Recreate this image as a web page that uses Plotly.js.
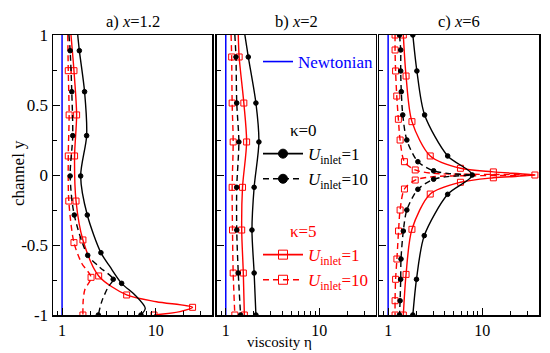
<!DOCTYPE html>
<html>
<head>
<meta charset="utf-8">
<script src="https://cdn.plot.ly/plotly-3.0.1.min.js"></script>
<style>html,body{margin:0;padding:0;background:#fff}#chart{width:550px;height:353px}</style>
</head>
<body>
<div id="chart"></div>
<script>
// ---------- data (viscosity eta vs channel y) ----------
const panelTitles = ['a) <i>x</i>=1.2', 'b) <i>x</i>=2', 'c) <i>x</i>=6'];
const xTickVals = [1, 10];
const xTickText = ['1', '10'];
const xMinorVals = [0.9, 2, 3, 4, 5, 6, 7, 8, 9, 20, 30];
const yTickVals = [-1, -0.5, 0, 0.5, 1];
const yTickText = ['-1', '-0.5', '0', '0.5', '1'];
const newtonX = [1, 1];
const newtonY = [-1, 1];

// panel a) x=1.2
const a_k0u1_y = [1, 0.888, 0.595, 0.281, -0.007, -0.286, -0.555, -0.655, -0.774, -0.857, -0.952, -1];
const a_k0u1_x = [1.47, 1.53, 1.74, 1.83, 1.58, 1.86, 2.6, 3.25, 4.33, 6.0, 7.74, 6.97];
const a_k0u1_m = [1, 2, 3, 4, 5, 6, 8, 11];
const a_k0u10_y = [1, 0.888, 0.595, 0.281, -0.007, -0.286, -0.574, -0.66, -0.745, -0.798, -0.905, -1];
const a_k0u10_x = [1.185, 1.22, 1.27, 1.30, 1.22, 1.35, 1.88, 2.54, 3.52, 3.12, 2.65, 2.44];
const a_k0u10_m = [1, 2, 3, 4, 5, 6, 8, 11];
const a_k5u1_y = [1, 0.745, 0.429, 0.136, -0.186, -0.464, -0.721, -0.857, -0.905, -0.945, -0.976, -1];
const a_k5u1_x = [1.245, 1.34, 1.43, 1.36, 1.41, 1.67, 2.46, 4.9, 10.2, 24.8, 18.2, 9.6];
const a_k5u1_m = [1, 2, 3, 4, 5, 6, 7, 9, 11];
const a_k5u10_y = [1, 0.745, 0.429, 0.136, -0.186, -0.483, -0.63, -0.731, -0.82, -0.9, -1];
const a_k5u10_x = [1.15, 1.165, 1.19, 1.165, 1.18, 1.34, 1.62, 2.04, 1.75, 1.68, 1.67];
const a_k5u10_m = [1, 2, 3, 4, 5, 7, 10];

// panel b) x=2
const b_y = [1, 0.843, 0.514, 0.236, -0.088, -0.393, -0.70, -1];
const b_k0u1_x = [1.60, 1.74, 2.10, 2.26, 2.01, 1.905, 2.01, 2.1];
const b_k0u10_x = [1.25, 1.285, 1.31, 1.38, 1.31, 1.31, 1.36, 1.44];
const b_k5u1_x = [1.36, 1.39, 1.56, 1.67, 1.51, 1.48, 1.54, 1.58];
const b_k5u10_x = [1.14, 1.156, 1.17, 1.2, 1.17, 1.18, 1.2, 1.25];
const b_m = [1, 2, 3, 4, 5, 6, 7];

// panel c) x=6
const c_k0u1_y = [1, 0.743, 0.429, 0.136, 0, -0.138, -0.433, -0.745, -1];
const c_k0u1_x = [1.83, 2.02, 2.44, 4.29, 7.82, 4.29, 2.42, 2.0, 1.83];
const c_k0u1_m = [0, 1, 2, 3, 4, 5, 6, 7, 8];
const c_k0u10_y = [1, 0.893, 0.743, 0.595, 0.429, 0.25, 0.095, 0.03, 0.01, 0, -0.01, -0.03, -0.102, -0.25, -0.4, -0.6, -0.745, -0.898, -1];
const c_k0u10_x = [1.32, 1.36, 1.36, 1.38, 1.43, 1.58, 2.07, 3.04, 4.5, 7.82, 4.5, 3.04, 2.07, 1.58, 1.45, 1.37, 1.36, 1.34, 1.32];
const c_k0u10_m = [0, 1, 2, 3, 4, 5, 6, 7, 11, 12, 13, 14, 15, 16, 17, 18];
const c_k5u1_y = [1, 0.707, 0.381, 0.136, 0.048, 0.022, 0, -0.02, -0.052, -0.136, -0.388, -0.71, -1];
const c_k5u1_x = [1.45, 1.55, 1.79, 2.8, 5.86, 13.1, 36.2, 13.1, 5.86, 2.8, 1.79, 1.55, 1.45];
const c_k5u1_m = [0, 1, 2, 3, 4, 5, 6, 7, 8, 9, 10, 11, 12];
const c_k5u10_y = [1, 0.893, 0.743, 0.564, 0.398, 0.25, 0.095, 0.036, 0.012, 0.004, 0, -0.004, -0.012, -0.036, -0.1, -0.25, -0.4, -0.6, -0.745, -0.898, -1];
const c_k5u10_x = [1.185, 1.185, 1.2, 1.235, 1.285, 1.34, 1.49, 1.94, 3.0, 13.1, 36.2, 13.1, 3.0, 1.94, 1.49, 1.34, 1.29, 1.24, 1.2, 1.185, 1.185];
const c_k5u10_m = [0, 1, 2, 3, 4, 5, 6, 7, 13, 14, 15, 16, 17, 18, 19, 20];

// ---------- styling ----------
const FONT = 'Liberation Serif, Times New Roman, Times, DejaVu Serif, serif';
const BLACK = '#000000', RED = '#ff0000', BLUE = '#0000ff';
const W = 550, H = 353;
const px = v => v / W, py = v => 1 - v / H;
const xDomains = [[px(53), px(212)], [px(216.7), px(375.7)], [px(379), px(539)]];
const yDomain = [py(315), py(35)];
const PAD = '\u00a0\u00a0\u00a0\u00a0\u00a0\u00a0';

const styles = {
  k0u1: {color: BLACK, dash: 'solid', symbol: 'circle', size: 4.6},
  k0u10: {color: BLACK, dash: '6px,4px', symbol: 'circle', size: 4.6},
  k5u1: {color: RED, dash: 'solid', symbol: 'square-open', size: 6},
  k5u10: {color: RED, dash: '6px,4px', symbol: 'square-open', size: 6}
};

const traces = [];
function addSeries(xs, ys, mk, st, ax) {
  const xa = 'x' + (ax === 1 ? '' : ax), ya = 'y' + (ax === 1 ? '' : ax);
  traces.push({x: xs, y: ys, xaxis: xa, yaxis: ya, mode: 'lines', showlegend: false, hoverinfo: 'skip',
    line: {color: st.color, width: 1.4, dash: st.dash, shape: 'spline', smoothing: 0.8}});
  traces.push({x: mk.map(i => xs[i]), y: mk.map(i => ys[i]), xaxis: xa, yaxis: ya, mode: 'markers', showlegend: false, hoverinfo: 'skip',
    marker: {color: st.color, symbol: st.symbol, size: st.size, line: {color: st.color, width: 1}}});
}
for (let p = 1; p <= 3; p++) {
  traces.push({x: newtonX, y: newtonY, xaxis: 'x' + (p === 1 ? '' : p), yaxis: 'y' + (p === 1 ? '' : p), mode: 'lines',
    showlegend: false, hoverinfo: 'skip', line: {color: BLUE, width: 1.5}});
}
addSeries(a_k5u10_x, a_k5u10_y, a_k5u10_m, styles.k5u10, 1);
addSeries(a_k5u1_x, a_k5u1_y, a_k5u1_m, styles.k5u1, 1);
addSeries(a_k0u10_x, a_k0u10_y, a_k0u10_m, styles.k0u10, 1);
addSeries(a_k0u1_x, a_k0u1_y, a_k0u1_m, styles.k0u1, 1);
addSeries(b_k5u10_x, b_y, b_m, styles.k5u10, 2);
addSeries(b_k5u1_x, b_y, b_m, styles.k5u1, 2);
addSeries(b_k0u10_x, b_y, b_m, styles.k0u10, 2);
addSeries(b_k0u1_x, b_y, b_m, styles.k0u1, 2);
addSeries(c_k5u10_x, c_k5u10_y, c_k5u10_m, styles.k5u10, 3);
addSeries(c_k5u1_x, c_k5u1_y, c_k5u1_m, styles.k5u1, 3);
addSeries(c_k0u10_x, c_k0u10_y, c_k0u10_m, styles.k0u10, 3);
addSeries(c_k0u1_x, c_k0u1_y, c_k0u1_m, styles.k0u1, 3);

// legend-only entries
const legendEntry = (name, st, leg) => ({x: [null], y: [null], xaxis: 'x2', yaxis: 'y2', mode: 'lines+markers', name: name, legend: leg,
  line: {color: st.color, width: 1.6, dash: st.dash}, marker: {color: st.color, symbol: st.symbol, size: 9, line: {color: st.color, width: 1}}});
traces.push({x: [null], y: [null], xaxis: 'x2', yaxis: 'y2', mode: 'lines', name: 'Newtonian', legend: 'legend', line: {color: BLUE, width: 1.6}});
traces.push(legendEntry('<i>U</i><sub>inlet</sub>=1', styles.k0u1, 'legend2'));
traces.push(legendEntry('<i>U</i><sub>inlet</sub>=10', styles.k0u10, 'legend2'));
traces.push(legendEntry('<i>U</i><sub>inlet</sub>=1', styles.k5u1, 'legend3'));
traces.push(legendEntry('<i>U</i><sub>inlet</sub>=10', styles.k5u10, 'legend3'));

function xAxis(i) {
  return {type: 'log', domain: xDomains[i], range: [Math.log10(0.8), Math.log10(40)], anchor: 'y' + (i === 0 ? '' : i + 1),
    tickmode: 'array', tickvals: xTickVals, ticktext: xTickText, ticks: 'inside', ticklen: 7, tickwidth: 1, tickcolor: BLACK,
    minor: {tickmode: 'array', tickvals: xMinorVals, ticks: 'inside', ticklen: 4, tickwidth: 1, tickcolor: BLACK, showgrid: false},
    showline: true, linecolor: BLACK, linewidth: 1.5, mirror: true, showgrid: false, zeroline: false,
    tickfont: {family: FONT, size: 16, color: BLACK}, automargin: false, fixedrange: true};
}
function yAxis(i, showLabels) {
  return {domain: yDomain, range: [-1, 1], anchor: 'x' + (i === 0 ? '' : i + 1),
    tickmode: 'array', tickvals: yTickVals, ticktext: yTickText, showticklabels: showLabels,
    ticks: 'inside', ticklen: 7, tickwidth: 1, tickcolor: BLACK,
    minor: {tickmode: 'linear', tick0: 0, dtick: 0.25, ticks: 'inside', ticklen: 4, tickwidth: 1, tickcolor: BLACK, showgrid: false},
    showline: true, linecolor: BLACK, linewidth: 1.5, mirror: true, showgrid: false, zeroline: false,
    tickfont: {family: FONT, size: 17, color: BLACK}, automargin: false, fixedrange: true};
}

const annotations = panelTitles.map((t, i) => ({text: t, xref: 'paper', yref: 'paper',
  x: (xDomains[i][0] + xDomains[i][1]) / 2, y: py(21.5), xanchor: 'center', yanchor: 'middle', showarrow: false,
  font: {family: FONT, size: 16.5, color: BLACK}}));
annotations.push({text: 'viscosity η', xref: 'paper', yref: 'paper', x: px(280), y: py(342), xanchor: 'center', yanchor: 'middle',
  showarrow: false, font: {family: FONT, size: 15, color: BLACK}});
annotations.push({text: 'channel y', xref: 'paper', yref: 'paper', x: px(18), y: py(173), xanchor: 'center', yanchor: 'middle',
  textangle: -90, showarrow: false, font: {family: FONT, size: 17, color: BLACK}});

const legBase = {bgcolor: 'rgba(0,0,0,0)', borderwidth: 0, xanchor: 'left', yanchor: 'top', itemclick: false, itemdoubleclick: false};
const layout = {
  width: W, height: H, margin: {l: 0, r: 0, t: 0, b: 0}, paper_bgcolor: '#fff', plot_bgcolor: '#fff',
  font: {family: FONT, size: 17, color: BLACK},
  xaxis: xAxis(0), xaxis2: xAxis(1), xaxis3: xAxis(2),
  yaxis: yAxis(0, true), yaxis2: yAxis(1, false), yaxis3: yAxis(2, false),
  annotations: annotations,
  legend: Object.assign({}, legBase, {x: px(258), y: py(44), font: {family: FONT, size: 17, color: BLUE}}),
  legend2: Object.assign({}, legBase, {x: px(258), y: py(114), itemwidth: 40, font: {family: FONT, size: 17, color: BLACK},
    title: {text: 'κ=0' + PAD, side: 'top center', font: {family: FONT, size: 17, color: BLACK}}}),
  legend3: Object.assign({}, legBase, {x: px(258), y: py(215), itemwidth: 40, font: {family: FONT, size: 17, color: RED},
    title: {text: 'κ=5' + PAD, side: 'top center', font: {family: FONT, size: 17, color: RED}}}),
  showlegend: true
};
Plotly.newPlot('chart', traces, layout, {displayModeBar: false, staticPlot: true});
</script>
</body>
</html>
